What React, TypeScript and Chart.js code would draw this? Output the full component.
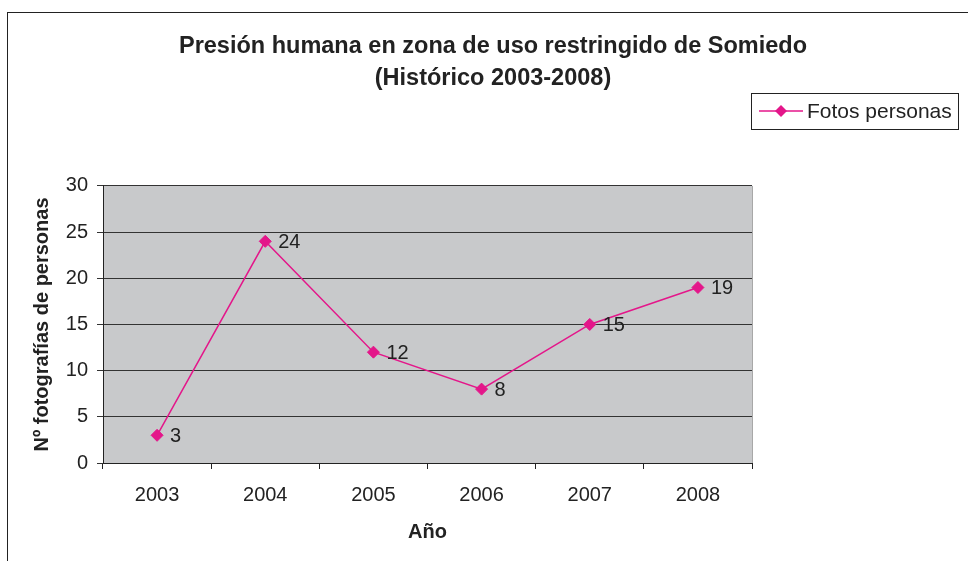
import React, { useEffect, useRef } from "react";
import { Chart, registerables } from "chart.js";

Chart.register(...registerables);

// ---- data ----
const categories = ["2003", "2004", "2005", "2006", "2007", "2008"];
const fotosPersonas = [3, 24, 12, 8, 15, 19];
const seriesLabel = "Fotos personas";
const titleLines = ["Presión humana en zona de uso restringido de Somiedo", "(Histórico 2003-2008)"];
const xAxisTitle = "Año";
const yAxisTitle = "Nº fotografías de personas";
const yMin = 0;
const yMax = 30;
const yStep = 5;

// ---- style ----
const FONT = "'Liberation Sans', Arial, Helvetica, sans-serif";
const INK = "#222222";
const PINK = "#E4168A";
const PLOT_BG = "#C8C9CB";

const frameAndBg = {
  id: "frameAndBg",
  beforeDraw(chart: any) {
    const { ctx, chartArea: a } = chart;
    ctx.save();
    ctx.fillStyle = "#ffffff";
    ctx.fillRect(0, 0, chart.width, chart.height);
    ctx.strokeStyle = INK;
    ctx.lineWidth = 1;
    ctx.strokeRect(7.5, 12.5, chart.width + 40, chart.height + 40);
    ctx.fillStyle = PLOT_BG;
    ctx.fillRect(a.left, a.top, a.right - a.left, a.bottom - a.top);
    ctx.strokeStyle = "#a8a8a8";
    ctx.beginPath();
    ctx.moveTo(a.right + 0.5, a.top);
    ctx.lineTo(a.right + 0.5, a.bottom);
    ctx.stroke();
    ctx.restore();
  },
};

const pointLabels = {
  id: "pointLabels",
  afterDatasetsDraw(chart: any) {
    const { ctx } = chart;
    const meta = chart.getDatasetMeta(0);
    const values = chart.data.datasets[0].data;
    ctx.save();
    ctx.font = `20px ${FONT}`;
    ctx.fillStyle = INK;
    ctx.textAlign = "left";
    ctx.textBaseline = "middle";
    meta.data.forEach((pt: any, i: number) => {
      ctx.fillText(String(values[i]), pt.x + 13, pt.y + 1);
    });
    ctx.restore();
  },
};

const boxedLegend = {
  id: "boxedLegend",
  afterDraw(chart: any) {
    const { ctx, chartArea: a } = chart;
    const ds = chart.data.datasets[0];
    const left = a.right - 1;
    const top = 93;
    const w = 207;
    const h = 36;
    const cy = top + h / 2;
    ctx.save();
    ctx.fillStyle = "#ffffff";
    ctx.fillRect(left, top, w, h);
    ctx.strokeStyle = INK;
    ctx.lineWidth = 1;
    ctx.strokeRect(left + 0.5, top + 0.5, w, h);
    ctx.strokeStyle = ds.borderColor;
    ctx.lineWidth = 1.5;
    ctx.beginPath();
    ctx.moveTo(left + 8, cy);
    ctx.lineTo(left + 52, cy);
    ctx.stroke();
    ctx.fillStyle = ds.pointBackgroundColor;
    const r = 6;
    const mx = left + 30;
    ctx.beginPath();
    ctx.moveTo(mx, cy - r);
    ctx.lineTo(mx + r, cy);
    ctx.lineTo(mx, cy + r);
    ctx.lineTo(mx - r, cy);
    ctx.closePath();
    ctx.fill();
    ctx.font = `21px ${FONT}`;
    ctx.fillStyle = INK;
    ctx.textAlign = "left";
    ctx.textBaseline = "middle";
    ctx.fillText(ds.label, left + 56, cy + 1);
    ctx.restore();
  },
};

export default function App() {
  const ref = useRef<HTMLCanvasElement | null>(null);

  useEffect(() => {
    if (!ref.current) return;
    const chart = new Chart(ref.current, {
      type: "line",
      data: {
        labels: categories,
        datasets: [
          {
            label: seriesLabel,
            data: fotosPersonas,
            borderColor: PINK,
            backgroundColor: PINK,
            pointBackgroundColor: PINK,
            pointBorderColor: PINK,
            pointStyle: "rectRot",
            pointRadius: 6,
            pointBorderWidth: 1,
            borderWidth: 1.5,
            tension: 0,
            fill: false,
            yAxisID: "y",
          },
        ],
      },
      options: {
        responsive: false,
        animation: false,
        devicePixelRatio: 1,
        layout: { padding: { left: 18, right: 0, top: 0, bottom: 0 } },
        plugins: {
          legend: { display: false },
          tooltip: { enabled: false },
          title: {
            display: true,
            text: titleLines,
            color: INK,
            font: { family: FONT, size: 23.5, weight: "bold", lineHeight: 1.36 },
            padding: { top: 31, bottom: 91 },
          },
        },
        scales: {
          x: {
            type: "category",
            offset: true,
            grid: {
              offset: true,
              drawOnChartArea: false,
              drawTicks: true,
              tickLength: 6,
              color: INK,
            },
            border: { color: INK, width: 1 },
            ticks: { color: INK, font: { family: FONT, size: 20 }, padding: 14, maxRotation: 0 },
            title: {
              display: true,
              text: xAxisTitle,
              color: INK,
              font: { family: FONT, size: 20, weight: "bold" },
              padding: { top: 0, bottom: 17 },
            },
            afterFit(s: any) {
              s.height = 98;
            },
          },
          y: {
            type: "linear",
            position: "left",
            min: yMin,
            max: yMax,
            ticks: { stepSize: yStep, color: INK, font: { family: FONT, size: 20 }, padding: 9 },
            grid: { color: "#333333", tickLength: 6, drawTicks: true },
            border: { color: INK, width: 1 },
            title: {
              display: true,
              text: yAxisTitle,
              color: INK,
              font: { family: FONT, size: 20, weight: "bold" },
              padding: { top: 12, bottom: 0 },
            },
            afterFit(s: any) {
              s.width = 85;
            },
          },
          yRightSpace: {
            type: "linear",
            position: "right",
            display: true,
            grid: { display: false, drawOnChartArea: false },
            border: { display: false },
            ticks: { display: false },
            afterFit(s: any) {
              s.width = 216;
            },
          },
        },
      } as any,
      plugins: [frameAndBg, pointLabels, boxedLegend],
    });
    return () => chart.destroy();
  }, []);

  return (
    <div style={{ position: "fixed", left: 0, top: 0, width: 968, height: 561, background: "#fff" }}>
      <canvas ref={ref} width={968} height={561} style={{ display: "block" }} />
    </div>
  );
}
